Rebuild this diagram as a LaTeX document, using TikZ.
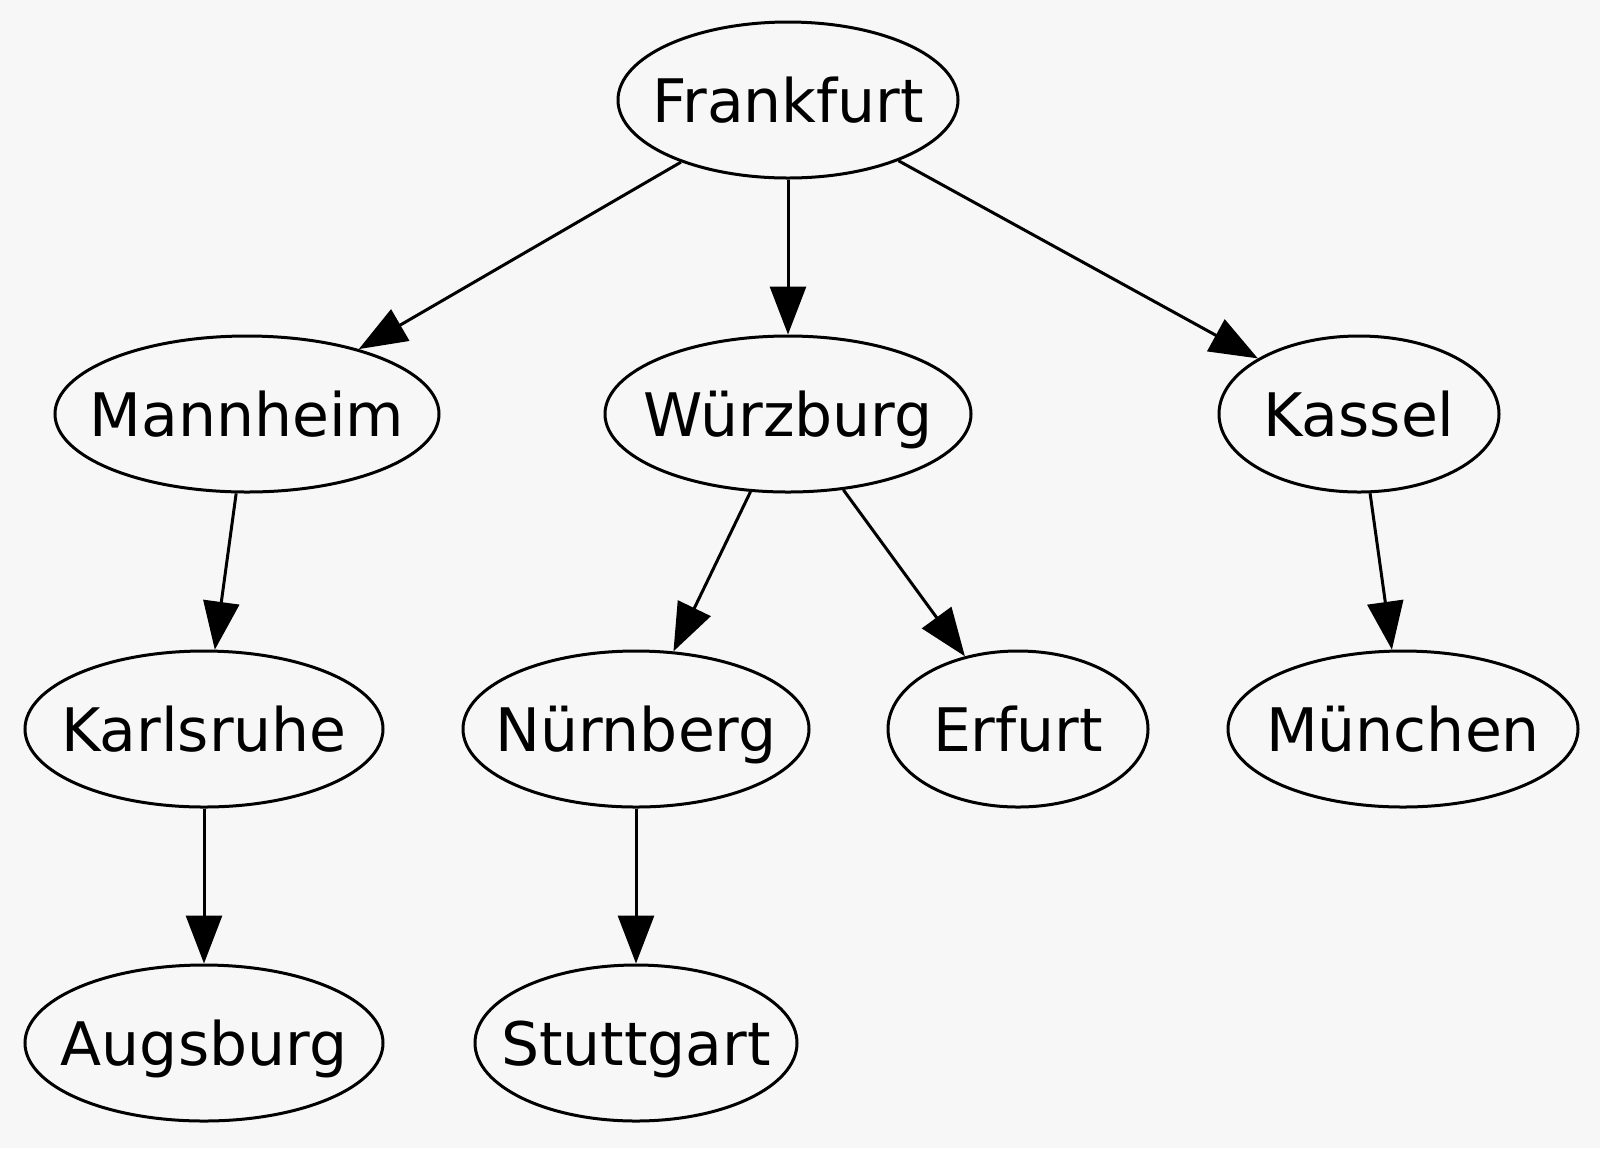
\documentclass[tikz,border=0pt]{standalone}
\usepackage{fontspec}
\setmainfont{DejaVu Sans}
\usepackage{tikz}
\usetikzlibrary{arrows.meta,shapes.geometric}
\definecolor{paper}{HTML}{F7F7F7}
\newcommand{\cityname}[1]{\makebox[0pt]{#1}}

\begin{document}
\begin{tikzpicture}[x=0.5pt, y=-0.5pt,
	city/.style={ellipse, draw, line width=1.5pt, inner sep=0pt, minimum height=78pt,
		text height=22pt, text depth=0pt, font=\fontsize{30}{36}\selectfont},
	road/.style={line width=1.5pt, -{Triangle[length=24pt, width=18pt]}}]
			%%%%% START %%%%%
			
			\fill[paper] (0, 0) rectangle (1600, 1148);
			\useasboundingbox (0, 0) rectangle (1600, 1148);
			
			\node[city, minimum width=170pt] (frankfurt) at (788, 100) {\cityname{Frankfurt}};
			
			\node[city, minimum width=192pt] (mannheim) at (247, 414) {\cityname{Mannheim}};
			\node[city, minimum width=183pt] (wuerzburg) at (788, 414) {\cityname{Würzburg}};
			\node[city, minimum width=140pt] (kassel) at (1359, 414) {\cityname{Kassel}};
			
			\node[city, minimum width=179pt] (karlsruhe) at (204, 729) {\cityname{Karlsruhe}};
			\node[city, minimum width=173pt] (nuernberg) at (636, 729) {\cityname{Nürnberg}};
			\node[city, minimum width=130pt] (erfurt) at (1018, 729) {\cityname{Erfurt}};
			\node[city, minimum width=175pt] (muenchen) at (1403, 729) {\cityname{München}};
			
			\node[city, minimum width=179pt] (augsburg) at (204, 1043) {\cityname{Augsburg}};
			\node[city, minimum width=161pt] (stuttgart) at (636, 1043) {\cityname{Stuttgart}};
			
			\draw[road] (frankfurt) -- (mannheim);
			\draw[road] (frankfurt) -- (wuerzburg);
			\draw[road] (frankfurt) -- (kassel);
			
			\draw[road] (mannheim) -- (karlsruhe);
			\draw[road] (wuerzburg) -- (nuernberg);
			\draw[road] (wuerzburg) -- (erfurt);
			\draw[road] (kassel) -- (muenchen);
			
			\draw[road] (karlsruhe) -- (augsburg);
			\draw[road] (nuernberg) -- (stuttgart);
			
			%%%%% END %%%%%
\end{tikzpicture}
\end{document}
